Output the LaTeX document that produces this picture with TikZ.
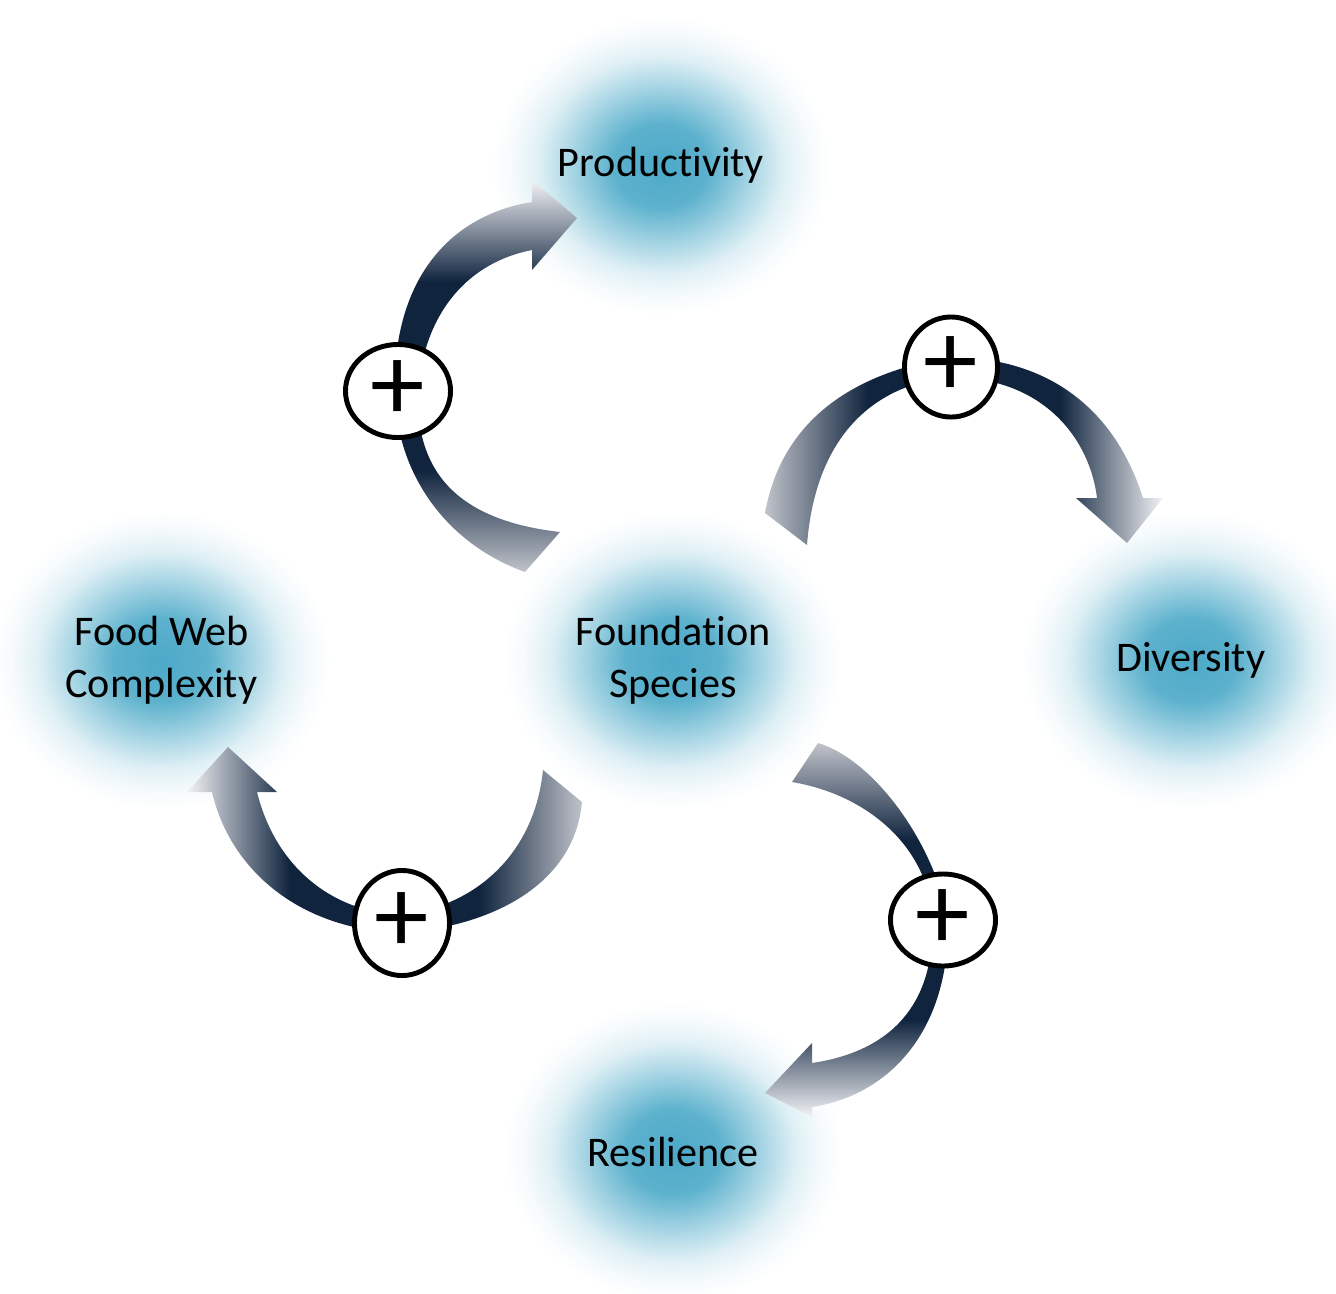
\documentclass[tikz,border=0pt]{standalone}
\usepackage{fontspec}
\setmainfont{Carlito}[RawFeature={-liga}]
\usepackage{tikz}
\usetikzlibrary{positioning,shapes.geometric}
\tikzset{>=latex}
\definecolor{navy}{HTML}{10243E}
\definecolor{tailgrey}{HTML}{C0C3CA}
\definecolor{headwhite}{HTML}{F3F3F6}
\definecolor{blobblue}{HTML}{4BA9C8}
\pgfdeclareradialshading{blob}{\pgfpoint{0cm}{0cm}}{color(0bp)=(blobblue); color(7bp)=(blobblue!90!white); color(13bp)=(blobblue!50!white); color(18bp)=(blobblue!18!white); color(22bp)=(blobblue!5!white); color(25bp)=(white); color(50bp)=(white)}
\pgfdeclareverticalshading{loop}{100bp}{color(0bp)=(tailgrey); color(25bp)=(tailgrey); color(38bp)=(navy); color(62bp)=(navy); color(75bp)=(headwhite); color(100bp)=(headwhite)}
\tikzset{
    factor/.style={ellipse, shading=blob, minimum width=3.4cm, minimum height=3cm, align=center, font=\fontsize{12}{14.8}\selectfont},
    sign/.style={ellipse, draw=black, fill=white, line width=1.4pt, minimum width=1.05cm, minimum height=0.93cm, inner sep=0pt, font=\fontsize{31}{31}\selectfont},
    band/.style={shading=loop}
}

\begin{document}
\begin{tikzpicture}[x=0.01cm, y=-0.01cm, node distance=1.93cm and 1.76cm]
    \useasboundingbox (0,0) rectangle (1336,1293);

    \node [factor] (fs) at (673,660) {Foundation\\Species};
    \node [factor, above=of fs, xshift=-0.12cm] (prod) {Productivity};
    \node [factor, right=of fs] (div) {Diversity};
    \node [factor, left=1.7cm of fs] (fwc) {Food Web\\Complexity};
    \node [factor, below=1.9cm of fs] (res) {Resilience};

    \shade [band] (525,572) .. controls (450,545) and (400,480) .. (395,400)
        .. controls (390,280) and (450,215) .. (532,202)
        -- (532,180) -- (577,218) -- (532,270) -- (532,250)
        .. controls (470,262) and (425,310) .. (418,390)
        .. controls (415,470) and (455,520) .. (560,532) -- cycle;
    \shade [band, shading angle=-90] (765,513) .. controls (780,430) and (840,375) .. (951,357)
        .. controls (1050,358) and (1115,410) .. (1143,498)
        -- (1163,498) -- (1127,543) -- (1076,498) -- (1097,498)
        .. controls (1090,440) and (1045,378) .. (951,377)
        .. controls (870,385) and (815,440) .. (807,545) -- cycle;
    \shade [band, shading angle=90] (582,802) .. controls (575,880) and (500,925) .. (402,933)
        .. controls (300,930) and (230,870) .. (212,792)
        -- (187,792) -- (228,747) -- (277,792) -- (257,792)
        .. controls (275,865) and (330,912) .. (402,915)
        .. controls (480,905) and (535,850) .. (543,770) -- cycle;
    \shade [band, shading angle=180] (818,743) .. controls (875,760) and (935,845) .. (948,920)
        .. controls (950,1030) and (890,1095) .. (812,1107)
        -- (812,1117) -- (765,1093) -- (812,1043) -- (812,1063)
        .. controls (900,1050) and (935,995) .. (932,920)
        .. controls (930,850) and (870,795) .. (792,782) -- cycle;

    \node [sign] (p1) at (398,391) {+};
    \node [sign, minimum width=0.93cm, minimum height=1cm] (p2) at (951,367) {+};
    \node [sign, minimum width=0.95cm, minimum height=1.05cm] (p3) at (402,923) {+};
    \node [sign, minimum height=0.92cm] (p4) at (943,920) {+};
\end{tikzpicture}
\end{document}
